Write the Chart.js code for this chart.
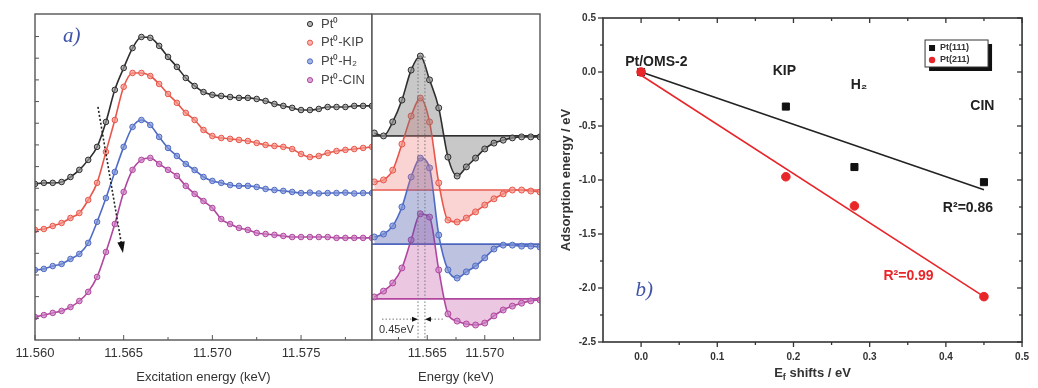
<!DOCTYPE html>
<html>
<head>
<meta charset="utf-8">
<script src="https://cdn.jsdelivr.net/npm/chart.js@4.4.1/dist/chart.umd.min.js"></script>
<style>
  body { margin: 0; background: #fff; width: 1038px; height: 388px; overflow: hidden; position: relative; }
  canvas { position: absolute; top: 0; }
</style>
</head>
<body>
<canvas id="chart-a" width="372" height="388" style="left:0"></canvas>
<canvas id="chart-m" width="175" height="388" style="left:371px"></canvas>
<canvas id="chart-b" width="493" height="388" style="left:545px"></canvas>
<script>
// ── Panel a: XANES (excitation energy, keV) ─────────────────
const eA = [11.5600, 11.5605, 11.5610, 11.5615, 11.5620, 11.5625, 11.5630, 11.5635, 11.5640, 11.5645,
            11.5650, 11.5655, 11.5660, 11.5665, 11.5670, 11.5675, 11.5680, 11.5685, 11.5690, 11.5695,
            11.5700, 11.5705, 11.5710, 11.5715, 11.5720, 11.5725, 11.5730, 11.5735, 11.5740, 11.5745,
            11.5750, 11.5755, 11.5760, 11.5765, 11.5770, 11.5775, 11.5780, 11.5785, 11.5790];
const xanesPt0 = [7.20, 7.25, 7.25, 7.29, 7.52, 7.85, 8.31, 8.91, 10.06, 11.54, 12.55, 13.47, 13.98, 13.94, 13.57,
                  13.06, 12.60, 12.09, 11.72, 11.44, 11.31, 11.26, 11.21, 11.17, 11.17, 11.12, 11.03, 10.89, 10.80,
                  10.71, 10.61, 10.61, 10.66, 10.75, 10.75, 10.75, 10.80, 10.80, 10.80];
const xanesKIP = [5.08, 5.12, 5.26, 5.40, 5.63, 5.86, 6.46, 7.25, 8.68, 10.15, 11.68, 12.32, 12.32, 12.18, 11.81,
                  11.35, 10.94, 10.48, 10.15, 9.69, 9.41, 9.32, 9.28, 9.23, 9.18, 9.09, 9.00, 8.95, 8.91,
                  8.81, 8.58, 8.44, 8.49, 8.63, 8.72, 8.77, 8.81, 8.86, 8.91];
const xanesH2  = [3.23, 3.28, 3.41, 3.51, 3.74, 3.97, 4.48, 5.45, 6.55, 7.75, 8.91, 9.83, 10.15, 9.92, 9.37,
                  8.86, 8.49, 8.12, 7.84, 7.52, 7.34, 7.25, 7.15, 7.11, 7.11, 7.06, 6.97, 6.92, 6.88,
                  6.83, 6.78, 6.80, 6.76, 6.78, 6.78, 6.80, 6.76, 6.78, 6.78];
const xanesCIN = [1.06, 1.15, 1.25, 1.34, 1.52, 1.80, 2.22, 2.91, 4.06, 5.35, 6.83, 7.85, 8.31, 8.40, 8.12,
                  7.85, 7.57, 7.11, 6.74, 6.41, 6.09, 5.58, 5.35, 5.17, 5.08, 4.94, 4.89, 4.85, 4.80,
                  4.75, 4.75, 4.75, 4.75, 4.75, 4.71, 4.71, 4.71, 4.71, 4.71];
const seriesA  = ['Pt⁰', 'Pt⁰-KIP', 'Pt⁰-H₂', 'Pt⁰-CIN'];
const aXLabels = [11.560, 11.565, 11.570, 11.575];
const aXMinor  = [11.5625, 11.5675, 11.5725, 11.5775];
const aYTicks  = [1, 2, 3, 4, 5, 6, 7, 8, 9, 10, 11, 12, 13, 14];
const shiftArrow = { from: [11.56355, 10.75], to: [11.56496, 4.01] };

// ── Middle: first derivative ────────────────────────────────
const eM   = [11.5604, 11.5612, 11.5620, 11.5628, 11.5636, 11.5644, 11.5652, 11.5660, 11.5668, 11.5676,
              11.5684, 11.5692, 11.5700, 11.5708, 11.5716, 11.5724, 11.5732, 11.5740, 11.5748];
const dPt0 = [63.5, 62.6, 66.9, 73.6, 82.8, 87.1, 79.8, 71.2, 56.1, 50.3, 53.1, 55.8, 58.6, 60.4, 61.3, 62.0, 62.3, 62.3, 62.3];
const dKIP = [48.5, 49.1, 52.1, 60.1, 68.7, 74.2, 66.9, 48.2, 36.8, 36.2, 37.4, 39.3, 41.4, 43.3, 44.8, 46.0, 46.0, 45.7, 45.4];
const dH2  = [31.6, 32.5, 35.0, 40.8, 50.0, 55.8, 52.8, 32.2, 21.5, 19.0, 20.9, 22.7, 25.2, 27.9, 29.1, 29.1, 28.8, 28.8, 28.5];
const dCIN = [13.2, 15.0, 17.5, 22.1, 30.7, 38.7, 37.7, 21.5, 8.0, 5.8, 4.9, 4.6, 5.2, 7.4, 9.2, 10.4, 11.3, 12.0, 12.3];
const dBase    = [62.6, 46.0, 29.4, 12.6];
const mXLabels = [11.565, 11.570];
const mXMinor  = [11.5625, 11.5675, 11.5725];
const peakLines = [11.5642, 11.5648];
const peakTop   = 87;
const shiftText = '0.45eV';

// ── Panel b: adsorption energy vs Ef shift ──────────────────
const efShift = [0, 0.19, 0.28, 0.45];
const ePt111  = [0, -0.32, -0.88, -1.02];
const ePt211  = [0, -0.97, -1.24, -2.08];
const fitX    = [0, 0.45];
const fit111  = [0.0, -1.09];
const fit211  = [-0.03, -2.08];
const bXTicks = [0, 0.1, 0.2, 0.3, 0.4, 0.5];
const bXMinor = [0.05, 0.15, 0.25, 0.35, 0.45];
const bYTicks = [-2.5, -2.0, -1.5, -1.0, -0.5, 0.0, 0.5];
const bYMinor = [-2.25, -1.75, -1.25, -0.75, -0.25, 0.25];
const samples = ['Pt/OMS-2', 'KIP', 'H₂', 'CIN'];
const sampleAt = [[0.02, 0.09], [0.188, 0.01], [0.286, -0.12], [0.448, -0.32]];

// estilos
const SANS = '"Liberation Sans", Arial, sans-serif';
const SERIF = '"Liberation Serif", "DejaVu Serif", serif';
Chart.defaults.font.family = SANS;
Chart.defaults.color = '#333';
const colA  = ['#2e2e2e', '#e8574b', '#4f6bc4', '#b0479f'];
const dotA  = ['rgba(150,150,150,0.7)', 'rgba(245,150,140,0.7)', 'rgba(130,150,215,0.7)', 'rgba(205,130,195,0.7)'];
const fillM = ['rgba(110,110,110,0.38)', 'rgba(240,110,110,0.30)', 'rgba(70,80,170,0.35)', 'rgba(190,70,160,0.30)'];

function xy(xs, ys) { return xs.map((x, i) => ({ x, y: ys[i] })); }

function tickMarks(chart, side, axis, vals, len) {
  const { ctx, chartArea: a } = chart;
  const s = chart.scales[axis];
  vals.forEach(v => {
    const p = s.getPixelForValue(v);
    ctx.beginPath();
    if (side === 'bottom') { ctx.moveTo(p, a.bottom); ctx.lineTo(p, a.bottom + len); }
    if (side === 'top')    { ctx.moveTo(p, a.top);    ctx.lineTo(p, a.top - len); }
    if (side === 'left')   { ctx.moveTo(a.left, p);   ctx.lineTo(a.left - len, p); }
    if (side === 'right')  { ctx.moveTo(a.right, p);  ctx.lineTo(a.right + len, p); }
    ctx.stroke();
  });
}

function frame(chart, color, width) {
  const { ctx, chartArea: a } = chart;
  ctx.strokeStyle = color;
  ctx.lineWidth = width;
  ctx.strokeRect(a.left, a.top, a.right - a.left, a.bottom - a.top);
}

function baseX(extra) {
  return Object.assign({
    type: 'linear',
    grid: { display: false, drawTicks: false },
    border: { display: false },
    ticks: { autoSkip: false, maxRotation: 0, padding: 6, font: { size: 13 }, color: '#333', callback: v => v.toFixed(3) },
    afterFit: s => { s.height = 48; }
  }, extra);
}

// ── Panel a ─────────────────────────────────────────────────
const xanes = [xanesPt0, xanesKIP, xanesH2, xanesCIN];
new Chart(document.getElementById('chart-a'), {
  type: 'line',
  data: {
    datasets: xanes.map((vals, i) => ({
      label: seriesA[i], data: xy(eA, vals),
      borderColor: colA[i], borderWidth: 1.6, cubicInterpolationMode: 'monotone',
      pointRadius: 2.8, pointBorderWidth: 1, pointBorderColor: colA[i], pointBackgroundColor: dotA[i]
    }))
  },
  options: {
    responsive: false, animation: false, devicePixelRatio: 1,
    layout: { autoPadding: false, padding: { top: 14, right: 0, left: 0, bottom: 0 } },
    plugins: { legend: { display: false }, tooltip: { enabled: false } },
    scales: {
      x: baseX({
        min: 11.560, max: 11.579,
        afterBuildTicks: s => { s.ticks = aXLabels.map(v => ({ value: v })); },
        title: { display: true, text: 'Excitation energy (keV)', font: { size: 13 }, color: '#333', padding: { bottom: 3 } }
      }),
      y: {
        min: 0, max: 15.04,
        grid: { display: false, drawTicks: false }, border: { display: false },
        ticks: { display: false },
        afterFit: s => { s.width = 35; }
      }
    }
  },
  plugins: [{
    id: 'decorA',
    afterDraw(chart) {
      const { ctx, chartArea: a, scales: { x, y } } = chart;
      ctx.save();
      frame(chart, '#555', 1.4);
      ctx.lineWidth = 1;
      tickMarks(chart, 'bottom', 'x', aXLabels, -5);
      tickMarks(chart, 'bottom', 'x', aXMinor, -3);
      tickMarks(chart, 'left', 'y', aYTicks, -4);

      // seta pontilhada do deslocamento da borda
      const x0 = x.getPixelForValue(shiftArrow.from[0]), y0 = y.getPixelForValue(shiftArrow.from[1]);
      const x1 = x.getPixelForValue(shiftArrow.to[0]),   y1 = y.getPixelForValue(shiftArrow.to[1]);
      const ang = Math.atan2(y1 - y0, x1 - x0);
      ctx.strokeStyle = '#222'; ctx.lineWidth = 1.6; ctx.setLineDash([2, 2]);
      ctx.beginPath(); ctx.moveTo(x0, y0); ctx.lineTo(x1 - 9 * Math.cos(ang), y1 - 9 * Math.sin(ang)); ctx.stroke();
      ctx.setLineDash([]);
      ctx.fillStyle = '#111';
      ctx.beginPath();
      ctx.moveTo(x1, y1);
      ctx.lineTo(x1 - 12 * Math.cos(ang - 0.32), y1 - 12 * Math.sin(ang - 0.32));
      ctx.lineTo(x1 - 12 * Math.cos(ang + 0.32), y1 - 12 * Math.sin(ang + 0.32));
      ctx.closePath(); ctx.fill();

      // legenda
      ctx.font = '13px ' + SANS; ctx.textBaseline = 'middle'; ctx.textAlign = 'left';
      seriesA.forEach((name, i) => {
        const ly = a.top + 10 + i * 18.7;
        ctx.beginPath(); ctx.arc(a.right - 62, ly, 2.6, 0, Math.PI * 2);
        ctx.fillStyle = dotA[i]; ctx.fill(); ctx.strokeStyle = colA[i]; ctx.lineWidth = 1; ctx.stroke();
        ctx.fillStyle = '#444'; ctx.fillText(name, a.right - 51, ly);
      });

      ctx.font = 'italic 21px ' + SERIF; ctx.fillStyle = '#3d52a8';
      ctx.fillText('a)', a.left + 28, a.top + 22);
      ctx.restore();
    }
  }]
});

// ── Middle panel ────────────────────────────────────────────
const deriv = [dPt0, dKIP, dH2, dCIN];
new Chart(document.getElementById('chart-m'), {
  type: 'line',
  data: {
    datasets: deriv.map((vals, i) => ({
      data: xy(eM, vals),
      borderColor: colA[i], borderWidth: 1.6, cubicInterpolationMode: 'monotone',
      fill: { value: dBase[i] }, backgroundColor: fillM[i],
      pointRadius: 3, pointBorderWidth: 1, pointBorderColor: colA[i], pointBackgroundColor: dotA[i]
    })).concat(dBase.map((b, i) => ({
      data: [{ x: 11.5602, y: b }, { x: 11.5748, y: b }],
      borderColor: colA[i], borderWidth: 1.6, pointRadius: 0, fill: false
    })))
  },
  options: {
    responsive: false, animation: false, devicePixelRatio: 1,
    layout: { autoPadding: false, padding: { top: 14, right: 6, left: 1, bottom: 0 } },
    plugins: { legend: { display: false }, tooltip: { enabled: false } },
    scales: {
      x: baseX({
        min: 11.5602, max: 11.5748,
        afterBuildTicks: s => { s.ticks = mXLabels.map(v => ({ value: v })); },
        title: { display: true, text: 'Energy (keV)', font: { size: 13 }, color: '#333', padding: { bottom: 3 } }
      }),
      y: { display: false, min: 0, max: 100 }
    }
  },
  plugins: [{
    id: 'decorM',
    afterDraw(chart) {
      const { ctx, chartArea: a, scales: { x, y } } = chart;
      ctx.save();
      ctx.strokeStyle = '#777'; ctx.lineWidth = 1; ctx.setLineDash([1.5, 2]);
      peakLines.forEach(e => {
        const px = x.getPixelForValue(e);
        ctx.beginPath(); ctx.moveTo(px, y.getPixelForValue(peakTop)); ctx.lineTo(px, a.bottom); ctx.stroke();
      });
      // marcador 0.45 eV
      const ay = y.getPixelForValue(6.4);
      const l = x.getPixelForValue(peakLines[0]), r = x.getPixelForValue(peakLines[1]);
      ctx.beginPath(); ctx.moveTo(a.left + 10, ay); ctx.lineTo(l - 6, ay); ctx.moveTo(r + 6, ay); ctx.lineTo(r + 20, ay); ctx.stroke();
      ctx.setLineDash([]);
      ctx.fillStyle = '#111';
      ctx.beginPath(); ctx.moveTo(l, ay); ctx.lineTo(l - 6, ay - 2.5); ctx.lineTo(l - 6, ay + 2.5); ctx.fill();
      ctx.beginPath(); ctx.moveTo(r, ay); ctx.lineTo(r + 6, ay - 2.5); ctx.lineTo(r + 6, ay + 2.5); ctx.fill();
      ctx.font = '11px ' + SANS; ctx.fillStyle = '#333'; ctx.textBaseline = 'middle';
      ctx.fillText(shiftText, a.left + 7, y.getPixelForValue(3.0));

      frame(chart, '#555', 1.4);
      ctx.lineWidth = 1;
      tickMarks(chart, 'bottom', 'x', mXLabels, -5);
      tickMarks(chart, 'bottom', 'x', mXMinor, -3);
      ctx.restore();
    }
  }]
});

// ── Panel b ─────────────────────────────────────────────────
new Chart(document.getElementById('chart-b'), {
  type: 'scatter',
  data: {
    datasets: [
      { label: 'Pt(211)', data: xy(efShift, ePt211), pointStyle: 'circle', pointRadius: 4.3,
        backgroundColor: '#e8262a', borderColor: '#e8262a' },
      { label: 'Pt(111)', data: xy(efShift, ePt111), pointStyle: 'rect', pointRadius: 5,
        backgroundColor: '#111', borderColor: '#111' },
      { data: xy(fitX, fit211), showLine: true, pointRadius: 0, borderColor: '#e8262a', borderWidth: 1.6 },
      { data: xy(fitX, fit111), showLine: true, pointRadius: 0, borderColor: '#222', borderWidth: 1.6 }
    ]
  },
  options: {
    responsive: false, animation: false, devicePixelRatio: 1,
    layout: { autoPadding: false, padding: { top: 18, right: 11, left: 0, bottom: 0 } },
    plugins: { legend: { display: false }, tooltip: { enabled: false } },
    scales: {
      x: {
        type: 'linear', min: -0.05, max: 0.5,
        grid: { display: false, drawTicks: false }, border: { display: false },
        ticks: { autoSkip: false, maxRotation: 0, padding: 9, font: { size: 10, weight: 'bold' }, color: '#333',
                 callback: v => v.toFixed(1) },
        afterBuildTicks: s => { s.ticks = bXTicks.map(v => ({ value: v })); },
        afterFit: s => { s.height = 46; }
      },
      y: {
        type: 'linear', min: -2.5, max: 0.5,
        grid: { display: false, drawTicks: false }, border: { display: false },
        ticks: { padding: 7, font: { size: 10, weight: 'bold' }, color: '#333', callback: v => v.toFixed(1) },
        afterBuildTicks: s => { s.ticks = bYTicks.map(v => ({ value: v })); },
        title: { display: true, text: 'Adsorption energy / eV', font: { size: 13, weight: 'bold' }, color: '#333',
                 padding: { top: 14 } },
        afterFit: s => { s.width = 58; }
      }
    }
  },
  plugins: [{
    id: 'decorB',
    afterDraw(chart) {
      const { ctx, chartArea: a, scales: { x, y } } = chart;
      ctx.save();
      frame(chart, '#333', 1.6);
      ctx.lineWidth = 1.3;
      tickMarks(chart, 'bottom', 'x', bXTicks, 5);
      tickMarks(chart, 'bottom', 'x', bXMinor, 3);
      tickMarks(chart, 'top', 'x', bXTicks, -5);
      tickMarks(chart, 'top', 'x', bXMinor, -3);
      tickMarks(chart, 'left', 'y', bYTicks, 5);
      tickMarks(chart, 'left', 'y', bYMinor, 3);
      tickMarks(chart, 'right', 'y', bYTicks, -5);
      tickMarks(chart, 'right', 'y', bYMinor, -3);

      // rótulos das amostras
      ctx.font = 'bold 14px ' + SANS; ctx.fillStyle = '#222'; ctx.textAlign = 'center'; ctx.textBaseline = 'middle';
      samples.forEach((s, i) => ctx.fillText(s, x.getPixelForValue(sampleAt[i][0]), y.getPixelForValue(sampleAt[i][1])));
      ctx.fillText('R²=0.86', x.getPixelForValue(0.429), y.getPixelForValue(-1.26));
      ctx.fillStyle = '#e8262a';
      ctx.fillText('R²=0.99', x.getPixelForValue(0.351), y.getPixelForValue(-1.89));
      ctx.font = 'italic 21px ' + SERIF; ctx.fillStyle = '#3d52a8';
      ctx.fillText('b)', x.getPixelForValue(0.004), y.getPixelForValue(-2.02));

      // legenda com sombra
      const lx = a.right - 97, ly = a.top + 22;
      ctx.fillStyle = '#111'; ctx.fillRect(lx + 4, ly + 4, 63, 27);
      ctx.fillStyle = '#fff'; ctx.fillRect(lx, ly, 63, 27);
      ctx.strokeStyle = '#333'; ctx.lineWidth = 1; ctx.strokeRect(lx, ly, 63, 27);
      ctx.fillStyle = '#111'; ctx.fillRect(lx + 4, ly + 5, 6, 6);
      ctx.fillStyle = '#e8262a'; ctx.beginPath(); ctx.arc(lx + 7, ly + 20, 3.2, 0, Math.PI * 2); ctx.fill();
      ctx.font = 'bold 9px ' + SANS; ctx.fillStyle = '#333'; ctx.textAlign = 'left';
      ctx.fillText('Pt(111)', lx + 15, ly + 8);
      ctx.fillText('Pt(211)', lx + 15, ly + 20);

      // título do eixo x com subscrito
      const cx = (a.left + a.right) / 2, ty = 373;
      ctx.fillStyle = '#333';
      const big = 'bold 13px ' + SANS, small = 'bold 9px ' + SANS;
      ctx.font = big; const wE = ctx.measureText('E').width, wR = ctx.measureText(' shifts / eV').width;
      ctx.font = small; const wF = ctx.measureText('f').width;
      let sx = cx - (wE + wF + wR) / 2;
      ctx.font = big; ctx.fillText('E', sx, ty);
      ctx.font = small; ctx.fillText('f', sx + wE, ty + 5);
      ctx.font = big; ctx.fillText(' shifts / eV', sx + wE + wF, ty);
      ctx.restore();
    }
  }]
});
</script>
</body>
</html>
